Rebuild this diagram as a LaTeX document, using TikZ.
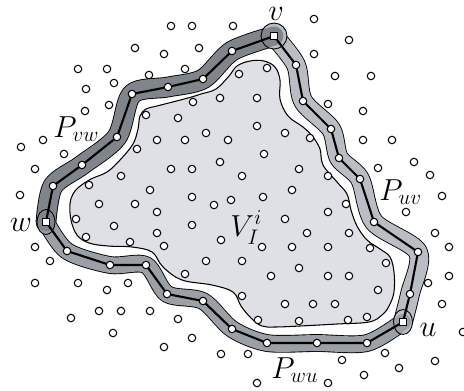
\documentclass[tikz,border=0pt]{standalone}
\usepackage{amsmath}
\definecolor{vwgray}{RGB}{128,133,140}
\definecolor{uvgray}{RGB}{186,190,196}
\definecolor{wugray}{RGB}{155,160,166}
\definecolor{ingray}{RGB}{223,224,229}

\begin{document}
\begin{tikzpicture}[x=0.02cm, y=-0.02cm,
  dotnode/.style={draw, fill=white, circle, inner sep=0pt, minimum size=0.15cm, line width=0.6pt},
  pathnode/.style={draw, fill=white, circle, inner sep=0pt, minimum size=0.15cm, line width=0.6pt},
  endnode/.style={draw, fill=white, rectangle, inner sep=0pt, minimum size=0.145cm, line width=0.6pt},
  lbl/.style={inner sep=0pt, font=\fontsize{17}{20}\selectfont},
  band/.style={line cap=round, line join=round}
]
\useasboundingbox (0,0) rectangle (464,390);

\draw[fill=ingray, line width=0.6pt] plot[smooth cycle, tension=0.6] coordinates {
  (237,66) (250,61) (264,61) (275,67) (280,80) (280,99) (288,116) (303,127)
  (313,137) (320,149) (323,165) (337,182) (347,194) (351,210) (357,226)
  (367,240) (380,249) (390,257) (394,272) (394,292) (389,306) (382,315)
  (369,322) (337,324) (300,326) (275,327) (262,326) (251,318) (241,306)
  (233,292) (212,285) (182,280) (163,267) (152,252) (132,247) (108,246)
  (89,243) (77,235) (71,220) (70,204) (73,194) (79,187) (91,179) (107,172)
  (120,160) (133,144) (138,129) (140,116) (146,109) (157,106) (188,98)
  (201,94) (216,89) (229,76)};

\foreach \n/\x/\y in {v/274/36, w/46/222, u/403/322,
  vw1/53/186, vw2/82/165, vw3/117/137, vw4/132/94, vw5/168/87, vw6/203/79, vw7/232/51,
  uv1/296/65, uv2/303/101, uv3/331/129, uv4/339/158, uv5/360/179, uv6/374/222, uv7/418/252, uv8/410/294,
  wu1/367/343, wu2/317/343, wu3/267/343, wu4/232/329, wu5/203/301, wu6/167/294, wu7/146/265, wu8/110/265, wu9/67/251}
  \coordinate (\n) at (\x,\y);

\draw[band, line width=0.415cm] plot[smooth] coordinates {(w) (vw1) (vw2) (vw3) (vw4) (vw5) (vw6) (vw7) (v)};
\draw[band, line width=0.395cm] plot[smooth] coordinates {(v) (uv1) (uv2) (uv3) (uv4) (uv5) (uv6) (uv7) (uv8) (u)};
\draw[band, line width=0.355cm] plot[smooth] coordinates {(u) (wu1) (wu2) (wu3) (wu4) (wu5) (wu6) (wu7) (wu8) (wu9) (w)};

\fill[uvgray] (v) circle [radius=0.26cm];
\fill[wugray] (w) ellipse [x radius=0.18cm, y radius=0.25cm];
\fill[uvgray] (u) ellipse [x radius=0.19cm, y radius=0.25cm];

\draw[band, uvgray, line width=0.36cm] plot[smooth] coordinates {(v) (uv1) (uv2) (uv3) (uv4) (uv5) (uv6) (uv7) (uv8) (u)};
\draw[band, wugray, line width=0.32cm] plot[smooth] coordinates {(u) (wu1) (wu2) (wu3) (wu4) (wu5) (wu6) (wu7) (wu8) (wu9) (w)};
\draw[band, vwgray, line width=0.38cm] plot[smooth] coordinates {(w) (vw1) (vw2) (vw3) (vw4) (vw5) (vw6) (vw7) (v)};

\draw[line width=1.2pt, line join=round] (w) -- (vw1) -- (vw2) -- (vw3) -- (vw4) -- (vw5) -- (vw6) -- (vw7) -- (v)
  -- (uv1) -- (uv2) -- (uv3) -- (uv4) -- (uv5) -- (uv6) -- (uv7) -- (uv8) -- (u)
  -- (wu1) -- (wu2) -- (wu3) -- (wu4) -- (wu5) -- (wu6) -- (wu7) -- (wu8) -- (wu9) -- (w);

\draw[line width=0.5pt] (v) circle [radius=0.26cm];
\draw[line width=0.5pt] (w) ellipse [x radius=0.18cm, y radius=0.25cm];
\draw[line width=0.5pt] (u) ellipse [x radius=0.19cm, y radius=0.25cm];

\foreach \n in {vw1,vw2,vw3,vw4,vw5,vw6,vw7,uv1,uv2,uv3,uv4,uv5,uv6,uv7,uv8,wu1,wu2,wu3,wu4,wu5,wu6,wu7,wu8,wu9}
  \node[pathnode] (n-\n) at (\n) {};
\node[endnode] (sq-v) at (v) {};
\node[endnode] (sq-w) at (w) {};
\node[endnode] (sq-u) at (u) {};

\foreach \x/\y [count=\i] in {
  171/26, 192/26, 233/26, 314/19, 135/48, 164/54, 199/48, 349/40, 314/54,
  78/69, 107/69, 149/75, 185/69, 239/74, 267/68, 335/76, 371/76,
  86/89, 114/83, 85/111, 109/105, 146/115, 193/102, 220/98, 257/98, 328/104, 363/111, 178/118,
  21/147, 43/140, 64/154, 137/149, 157/140, 185/140, 206/133, 228/140,
  35/169, 171/169, 192/169, 220/162, 121/176, 89/185, 150/190, 192/197, 20/195,
  257/126, 285/133, 310/138, 363/140, 392/140, 264/154, 414/162, 430/175, 378/168,
  242/176, 299/169, 328/176, 292/190, 442/196, 346/204, 231/200,
  99/204, 135/204, 157/212, 214/205, 263/197,
  76/219, 114/226, 192/225, 157/233, 86/237, 130/242, 164/246, 221/240, 262/247,
  206/261, 242/261, 185/274, 271/276,
  285/219, 307/233, 349/233, 328/212, 292/247, 328/247, 370/248,
  299/268, 328/276, 349/276, 386/263,
  406/212, 435/233, 449/247, 428/283, 449/276,
  35/247, 50/261, 35/283, 78/283, 107/290, 128/283,
  378/290, 242/296, 285/304, 313/304, 335/304, 442/304,
  258/320, 299/321, 348/320, 367/317, 463/332,
  71/318, 99/311, 121/311, 150/311, 178/319, 113/333, 192/338, 164/347, 221/354,
  248/354, 342/360, 385/353, 435/361, 399/368, 364/375, 257/383, 328/383}
  \node[dotnode] (p\i) at (\x,\y) {};

\node[lbl] (lv) at (276,14) {$v$};
\node[lbl] (lw) at (21,225) {$w$};
\node[lbl] (lu) at (428,330) {$u$};
\node[lbl, anchor=base west] (lpvw) at (53,137) {$P_{vw}$};
\node[lbl, anchor=base west] (lpuv) at (379,200) {$P_{uv}$};
\node[lbl, anchor=base west] (lpwu) at (271,378) {$P_{wu}$};
\node[lbl, anchor=base west] (lvi) at (230,236) {$V_I^i$};
\end{tikzpicture}
\end{document}
